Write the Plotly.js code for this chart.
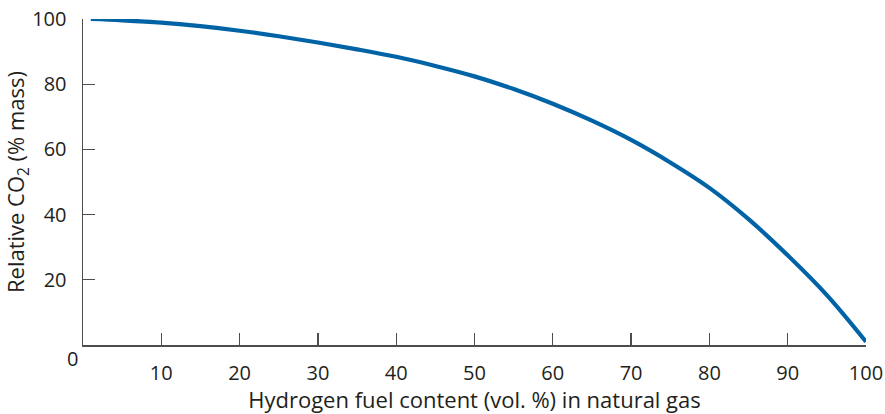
<!DOCTYPE html>
<html>
<head>
<meta charset="utf-8">
<script src="https://cdn.plot.ly/plotly-3.0.1.min.js"></script>
<style>html,body{margin:0;padding:0;background:#fff;}#chart{width:885px;height:414px;}</style>
</head>
<body>
<div id="chart"></div>
<script>
const hydrogenPct = [1, 5, 10, 15, 20, 25, 30, 35, 40, 45, 50, 55, 60, 65, 70, 75, 80, 85, 90, 95, 100];
const relativeCO2 = [100, 99.6, 98.9, 97.8, 96.4, 94.7, 92.8, 90.7, 88.4, 85.6, 82.4, 78.5, 74.0, 68.8, 62.9, 56.0, 48.2, 38.6, 27.5, 15.3, 1];
const xTicks = [10, 20, 30, 40, 50, 60, 70, 80, 90, 100];
const yTicks = [20, 40, 60, 80, 100];
const originLabel = "0";

const FONT = "Open Sans, Noto Sans, sans-serif";
const TXT = "#231f20";

const trace = {
  x: hydrogenPct, y: relativeCO2, type: "scatter", mode: "lines",
  line: {color: "#0063a6", width: 4.2, shape: "spline", smoothing: 1},
  cliponaxis: false, hoverinfo: "skip"
};

const layout = {
  width: 885, height: 414,
  margin: {l: 83, r: 19, t: 19, b: 69, pad: 0},
  paper_bgcolor: "#fff", plot_bgcolor: "#fff",
  showlegend: false,
  font: {family: FONT, color: TXT, size: 20},
  xaxis: {
    range: [0, 100], tickvals: xTicks, ticktext: xTicks.map(String),
    ticks: "inside", ticklen: 12, tickwidth: 1.3, tickcolor: "#4d4d4d",
    showline: true, linecolor: "#4d4d4d", linewidth: 1.5,
    showgrid: false, zeroline: false,
    tickfont: {family: FONT, size: 20, color: TXT},
    ticklabelstandoff: 9,
    title: {text: "Hydrogen fuel content (vol. %) in natural gas", font: {family: FONT, size: 22, color: TXT}, standoff: 11}
  },
  yaxis: {
    range: [0, 100], tickvals: yTicks, ticktext: yTicks.map(String),
    ticks: "inside", ticklen: 12, tickwidth: 1.3, tickcolor: "#4d4d4d",
    showline: true, linecolor: "#4d4d4d", linewidth: 1.5,
    showgrid: false, zeroline: false,
    tickfont: {family: FONT, size: 20, color: TXT},
    ticklabelstandoff: 11,
    title: {text: "Relative CO<sub>2</sub> (% mass)", font: {family: FONT, size: 22, color: TXT}, standoff: 2}
  },
  annotations: [{
    text: originLabel, xref: "x", yref: "y", x: 0, y: 0,
    xanchor: "center", yanchor: "middle", xshift: -11, yshift: -13,
    showarrow: false, font: {family: FONT, size: 20, color: TXT}
  }]
};

Plotly.newPlot("chart", [trace], layout, {displayModeBar: false, staticPlot: true});
</script>
</body>
</html>
